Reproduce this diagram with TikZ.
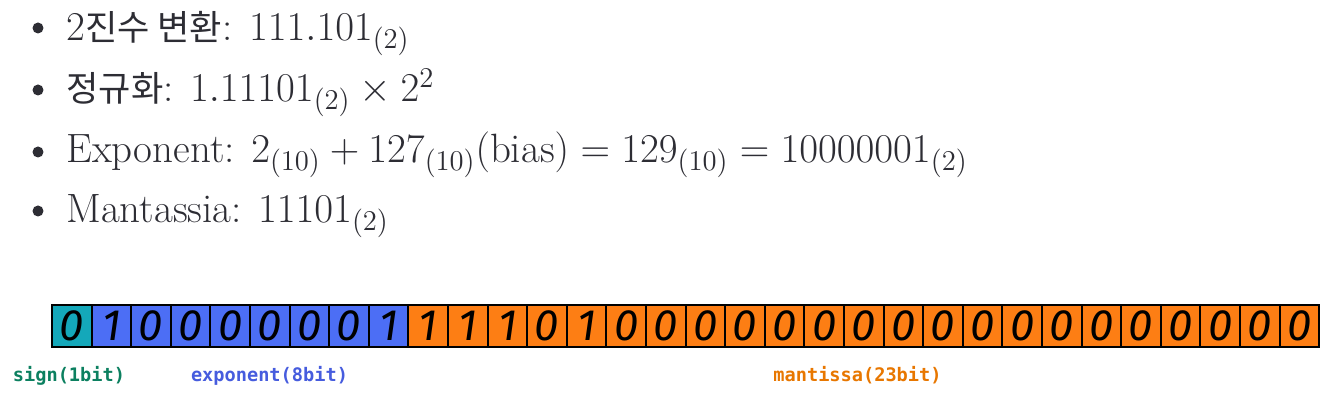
\RequirePackage{fix-cm}
\documentclass[tikz,border=0pt]{standalone}
\usepackage{fontspec}
\newfontfamily\kr{Noto Sans CJK KR}
\newfontfamily\hand{Fira Sans}
\newfontfamily\mono{DejaVu Sans Mono}
\definecolor{signcol}{RGB}{20,168,186}
\definecolor{expcol}{RGB}{76,110,245}
\definecolor{mancol}{RGB}{253,126,20}
\definecolor{signtxt}{RGB}{12,128,96}
\definecolor{exptxt}{RGB}{70,92,222}
\definecolor{mantxt}{RGB}{232,119,0}
\definecolor{ink}{RGB}{45,45,52}
\begin{document}
\begin{tikzpicture}[
    x=0.02cm, y=-0.02cm,
    item/.style={anchor=base west, inner sep=0pt, text=ink, font=\fontsize{23.3}{27}\selectfont},
    dot/.style={circle, fill=ink, inner sep=0pt, minimum size=0.22cm},
    bit/.style={draw=black, line width=1.1pt, minimum width=0.792cm, minimum height=0.83cm,
                inner sep=0pt, font=\hand\itshape\fontsize{25}{25}\selectfont},
    tag/.style={anchor=base, inner sep=0pt, font=\mono\bfseries\fontsize{10.6}{12}\selectfont}
  ]
  \useasboundingbox[fill=white] (0,0) rectangle (1338,401);
  % bullet list
  \node[dot] (dot1) at (38,28) {};
  \node[item] (line1) at (66,41) {2{\kr\fontsize{20}{24}\selectfont 진수 변환}: $111.101_{(2)}$};
  \node[dot] (dot2) at (38,90) {};
  \node[item] (line2) at (66,102) {{\kr\fontsize{20}{24}\selectfont 정규화}: $1.11101_{(2)} \times 2^2$};
  \node[dot] (dot3) at (38,152) {};
  \node[item] (line3) at (66,163) {Exponent: $2_{(10)} + 127_{(10)}(\mathrm{bias}) = 129_{(10)} = 10000001_{(2)}$};
  \node[dot] (dot4) at (38,211) {};
  \node[item] (line4) at (66,223) {Mantassia: $11101_{(2)}$};
  % bits
  \node[bit, fill=signcol] (b1) at (71.8,326) {0};
  \foreach \v [count=\i from 2] in {1,0,0,0,0,0,0,1}
    \node[bit, fill=expcol] (b\i) at ({52+39.6*(\i-0.5)},326) {\v};
  \foreach \v [count=\i from 10] in {1,1,1,0,1,0,0,0,0,0,0,0,0,0,0,0,0,0,0,0,0,0,0}
    \node[bit, fill=mancol] (b\i) at ({52+39.6*(\i-0.5)},326) {\v};
  % field labels
  \node[tag, text=signtxt] (signlbl) at (69,382) {sign(1bit)};
  \node[tag, text=exptxt] (explbl) at (269.5,382) {exponent(8bit)};
  \node[tag, text=mantxt] (manlbl) at (857.5,382) {mantissa(23bit)};
\end{tikzpicture}
\end{document}
